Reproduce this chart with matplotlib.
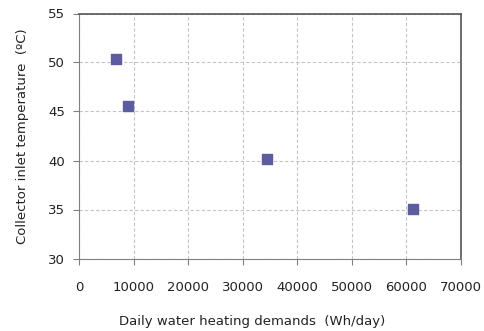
import matplotlib.pyplot as plt

# Daily demand vs collector inlet temperature
demand_wh = [6800, 9000, 34500, 61200]
inlet_temp_c = [50.4, 45.6, 40.2, 35.1]
x_ticks = [0, 10000, 20000, 30000, 40000, 50000, 60000, 70000]
y_ticks = [30, 35, 40, 45, 50, 55]

fig = plt.figure(figsize=(4.85, 3.31), dpi=100)
ax = fig.add_axes([79 / 485, 1 - 258.5 / 331, 382 / 485, 245 / 331])

ax.scatter(demand_wh, inlet_temp_c, marker='s', s=62, color='#5c5c9f', zorder=3)

ax.set_xlim(0, 70000)
ax.set_ylim(30, 55)
ax.set_xticks(x_ticks)
ax.set_yticks(y_ticks)
ax.grid(True, linestyle=(0, (3, 2)), color='#c4c4c4', linewidth=0.8)
ax.set_axisbelow(True)

for side in ['left', 'bottom']:
    ax.spines[side].set_color('#808080')
for side in ['top', 'right']:
    ax.spines[side].set_color('#555555')
    ax.spines[side].set_linewidth(1.2)

ax.tick_params(axis='x', direction='out', length=4, pad=12, color='#808080', labelsize=9.5, labelcolor='#222222')
ax.tick_params(axis='y', direction='out', length=4, pad=6, color='#808080', labelsize=9.5, labelcolor='#222222')

# x label sits a little left of the axes centre
ax.set_xlabel('Daily water heating demands  (Wh/day)', fontsize=9.5, labelpad=15.5, color='#222222', x=0.454)
ax.set_ylabel('Collector inlet temperature  (\u00baC)', fontsize=9.5, labelpad=14, color='#222222')

fig.savefig('out.png', dpi=100)
